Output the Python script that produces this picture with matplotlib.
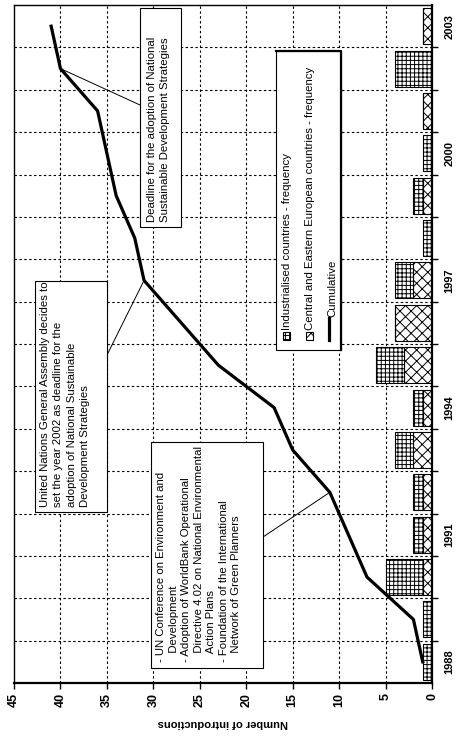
import matplotlib
matplotlib.use('Agg')
import matplotlib.pyplot as plt
import numpy as np
from matplotlib.patches import Rectangle
from matplotlib.lines import Line2D

plt.rcParams['font.family'] = ['Liberation Sans', 'DejaVu Sans']
plt.rcParams['hatch.linewidth'] = 0.7

# Data
years = list(range(1988, 2004))
industrialised = [1, 1, 4, 1, 1, 2, 1, 3, 0, 2, 1, 1, 1, 0, 4, 0]
cee = [0, 0, 1, 1, 1, 2, 1, 3, 4, 2, 0, 1, 0, 1, 0, 1]
cumulative = [1, 2, 7, 9, 11, 15, 17, 23, 27, 31, 32, 34, 35, 36, 40, 41]
labelled_years = [1988, 1991, 1994, 1997, 2000, 2003]

label_ind = 'Industrialised countries - frequency'
label_cee = 'Central and Eastern European countries - frequency'
label_cum = 'Cumulative'

note_2002 = 'Deadline for the adoption of National\nSustainable Development Strategies'
note_1997 = ('United Nations General Assembly decides to\nset the year 2002 as deadline for the\n'
             'adoption of National Sustainable\nDevelopment Strategies')
note_1992 = ('- UN Conference on Environment and\n   Development\n- Adoption of WorldBank Operational\n'
             '   Directive 4.02 on National Environmental\n   Action Plans\n- Foundation of the International\n'
             '   Network of Green Planners')

W, H = 459, 740


def fx(x):
    return x / W


def fy(y):
    return 1 - y / H


fig = plt.figure(figsize=(W / 100, H / 100), dpi=100)
ax = fig.add_axes([fx(14), fy(683), (432 - 14) / W, (683 - 5) / H])

pos = np.arange(len(years))
ind = np.array(industrialised)
ce = np.array(cee)

# grid (dashed, behind everything)
dash = (0, (2.2, 2.2))
for v in range(5, 45, 5):
    ax.axvline(v, color='black', lw=0.8, ls=dash, zorder=0)
for b in pos[:-1] + 0.5:
    ax.axhline(b, color='black', lw=0.8, ls=dash, zorder=0)

ax.barh(pos, ce, height=0.85, color='white', edgecolor='black', hatch='xxx', lw=0.8, zorder=2)
ax.barh(pos, ind, left=ce, height=0.85, color='white', edgecolor='black', hatch='++++', lw=0.8, zorder=2)
ax.plot(cumulative, pos, color='black', lw=2.3, zorder=3, solid_joinstyle='round')

ax.set_xlim(45, 0)
ax.set_ylim(-0.5, len(years) - 0.5)
ax.set_xticks(np.arange(0, 50, 5))
ax.set_xticklabels([str(v) for v in range(0, 50, 5)], rotation=90, fontweight='bold', fontsize=9)
ax.tick_params(axis='x', direction='out', length=4, width=1, pad=3)
ax.set_xlabel('Number of introductions', rotation=180, fontweight='bold', fontsize=8, labelpad=8)

ax.yaxis.tick_right()
ax.set_yticks([years.index(y) for y in labelled_years])
ax.set_yticklabels([str(y) for y in labelled_years], rotation=90, fontweight='bold', fontsize=8, va='center')
ax.tick_params(axis='y', which='major', length=0, pad=9)
ax.set_yticks(pos[:-1] + 0.5, minor=True)
ax.tick_params(axis='y', which='minor', direction='out', length=4, width=1)

for side in ['left', 'top']:
    ax.spines[side].set_linewidth(1.0)
for side in ['right', 'bottom']:
    ax.spines[side].set_linewidth(1.6)

FS = 8.2


# annotation boxes
def note_box(x0, y0, x1, y1, text, tx, ty, ls):
    fig.patches.append(Rectangle((fx(x0), fy(y1)), fx(x1 - x0), (y1 - y0) / H,
                                 transform=fig.transFigure, facecolor='white',
                                 edgecolor='black', lw=0.8, zorder=5))
    fig.text(fx(tx), fy(ty), text, rotation=90, ha='left', va='bottom', fontsize=FS,
             linespacing=ls, zorder=6)


note_box(140, 8, 181, 227, note_2002, 147, 222, 1.42)
note_box(35, 281, 107, 512, note_1997, 40, 507, 1.42)
note_box(151, 442, 263, 668, note_1992, 156, 662, 1.32)

for (px, py), i in [((140, 105), 14), ((107, 355), 9), ((263, 537), 4)]:
    ax.annotate('', xy=(cumulative[i], pos[i]), xycoords='data',
                xytext=(fx(px), fy(py)), textcoords='figure fraction',
                arrowprops=dict(arrowstyle='-', lw=0.7, color='black', shrinkA=0, shrinkB=0),
                zorder=4)

# legend (rotated with the chart)
fig.patches.append(Rectangle((fx(276), fy(350)), fx(341 - 276), (350 - 51) / H,
                             transform=fig.transFigure, facecolor='white',
                             edgecolor='black', lw=0.8, zorder=5))
fig.lines.append(Line2D([fx(276), fx(341), fx(341)], [fy(51), fy(51), fy(350)],
                        transform=fig.transFigure, color='black', lw=1.6, zorder=6))
swatches = [('++++', label_ind, 286), ('xxx', label_cee, 309)]
for hatch, lab, cx in swatches:
    fig.patches.append(Rectangle((fx(cx - 3.5), fy(340)), fx(7), 8 / H,
                                 transform=fig.transFigure, facecolor='white',
                                 edgecolor='black', hatch=hatch, lw=0.8, zorder=6))
    fig.text(fx(cx + 1), fy(330), lab, rotation=90, ha='center', va='bottom',
             fontsize=FS, zorder=6)
fig.lines.append(Line2D([fx(329), fx(329)], [fy(340), fy(318)],
                        transform=fig.transFigure, color='black', lw=2.3, zorder=6))
fig.text(fx(332), fy(317), label_cum, rotation=90, ha='center', va='bottom',
         fontsize=FS, zorder=6)

fig.savefig('out.png', dpi=100)
